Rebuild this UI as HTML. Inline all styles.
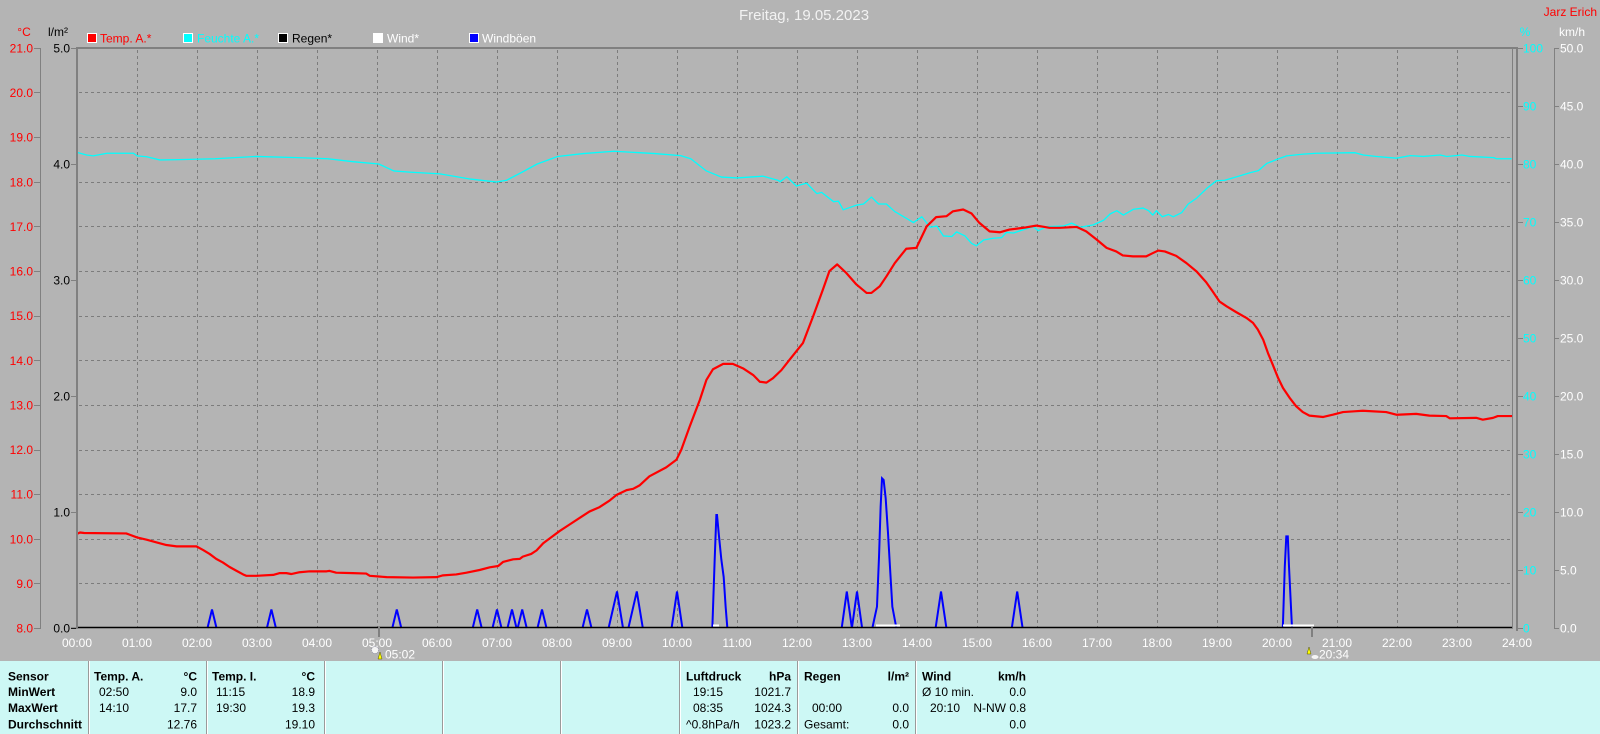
<!DOCTYPE html>
<html><head><meta charset="utf-8"><style>
html,body{margin:0;padding:0;background:#b4b4b4;}
svg{display:block;}
text{font-family:"Liberation Sans",Arial,sans-serif;}
</style></head><body>
<svg width="1600" height="734" viewBox="0 0 1600 734" xmlns="http://www.w3.org/2000/svg">
<rect x="0" y="0" width="1600" height="734" fill="#b4b4b4"/>
<!-- bottom panel -->
<rect x="0" y="661" width="1600" height="73" fill="#cdf8f5"/>
<g stroke="#9a9a9a" stroke-width="1">
<line x1="88.5" y1="661" x2="88.5" y2="734"/><line x1="206.5" y1="661" x2="206.5" y2="734"/>
<line x1="324.5" y1="661" x2="324.5" y2="734"/><line x1="442.5" y1="661" x2="442.5" y2="734"/>
<line x1="560.5" y1="661" x2="560.5" y2="734"/><line x1="679.5" y1="661" x2="679.5" y2="734"/>
<line x1="797.5" y1="661" x2="797.5" y2="734"/><line x1="915.5" y1="661" x2="915.5" y2="734"/>
</g>
<g stroke="#ffffff" stroke-width="1">
<line x1="89.5" y1="661" x2="89.5" y2="734"/><line x1="207.5" y1="661" x2="207.5" y2="734"/>
<line x1="325.5" y1="661" x2="325.5" y2="734"/><line x1="443.5" y1="661" x2="443.5" y2="734"/>
<line x1="561.5" y1="661" x2="561.5" y2="734"/><line x1="680.5" y1="661" x2="680.5" y2="734"/>
<line x1="798.5" y1="661" x2="798.5" y2="734"/><line x1="916.5" y1="661" x2="916.5" y2="734"/>
</g>

<!-- title -->
<text x="804" y="20" font-size="15" fill="#f2f2f2" text-anchor="middle">Freitag, 19.05.2023</text>
<text x="1597" y="16" font-size="12" fill="#ff0000" text-anchor="end">Jarz Erich</text>

<!-- units -->
<text x="24" y="36" font-size="12" fill="#ff0000" text-anchor="middle">°C</text>
<text x="58" y="36" font-size="12" fill="#000000" text-anchor="middle">l/m²</text>
<text x="1525" y="36" font-size="12" fill="#00ffff" text-anchor="middle">%</text>
<text x="1572" y="36" font-size="12" fill="#ffffff" text-anchor="middle">km/h</text>

<!-- legend -->
<rect x="87.5" y="33.5" width="9" height="9" fill="#ff0000" stroke="#ffffff" stroke-width="1"/>
<text x="100" y="42.5" font-size="12" fill="#ff0000">Temp. A.*</text>
<rect x="183.5" y="33.5" width="9" height="9" fill="#00ffff" stroke="#ffffff" stroke-width="1"/>
<text x="197" y="42.5" font-size="12" fill="#00ffff">Feuchte A.*</text>
<rect x="278.5" y="33.5" width="9" height="9" fill="#000000" stroke="#ffffff" stroke-width="1"/>
<text x="292" y="42.5" font-size="12" fill="#000000">Regen*</text>
<rect x="373.5" y="33.5" width="9" height="9" fill="#ffffff" stroke="#ffffff" stroke-width="1"/>
<text x="387" y="42.5" font-size="12" fill="#ffffff">Wind*</text>
<rect x="469.5" y="33.5" width="9" height="9" fill="#0000ff" stroke="#ffffff" stroke-width="1"/>
<text x="482" y="42.5" font-size="12" fill="#ffffff">Windböen</text>

<!-- grid -->
<g stroke="#7c7c7c" stroke-width="1" stroke-dasharray="3,3" fill="none">
<path d="M137.5 50V627M197.5 50V627M257.5 50V627M317.5 50V627M377.5 50V627M437.5 50V627M497.5 50V627M557.5 50V627M617.5 50V627M677.5 50V627M737.5 50V627M797.5 50V627M857.5 50V627M917.5 50V627M977.5 50V627M1037.5 50V627M1097.5 50V627M1157.5 50V627M1217.5 50V627M1277.5 50V627M1337.5 50V627M1397.5 50V627M1457.5 50V627"/>
<path d="M79 92.5H1512M79 137.5H1512M79 182.5H1512M79 226.5H1512M79 271.5H1512M79 316.5H1512M79 360.5H1512M79 405.5H1512M79 450.5H1512M79 494.5H1512M79 539.5H1512M79 583.5H1512"/>
</g>

<!-- left temp axis -->
<g stroke="#808080" stroke-width="1">
<line x1="40.5" y1="48" x2="40.5" y2="629"/>
<path d="M34 48.5H40M34 92.5H40M34 137.5H40M34 182.5H40M34 226.5H40M34 271.5H40M34 316.5H40M34 360.5H40M34 405.5H40M34 450.5H40M34 494.5H40M34 539.5H40M34 583.5H40M34 628.5H40"/>
<path d="M71 48.5H77M71 164.5H77M71 280.5H77M71 396.5H77M71 512.5H77M71 628.5H77"/>
<line x1="1554.5" y1="48" x2="1554.5" y2="629"/>
<path d="M1518 48.5H1523M1518 106.5H1523M1518 164.5H1523M1518 222.5H1523M1518 280.5H1523M1518 338.5H1523M1518 396.5H1523M1518 454.5H1523M1518 512.5H1523M1518 570.5H1523M1518 628.5H1523"/>
<path d="M1554 48.5H1559M1554 106.5H1559M1554 164.5H1559M1554 222.5H1559M1554 280.5H1559M1554 338.5H1559M1554 396.5H1559M1554 454.5H1559M1554 512.5H1559M1554 570.5H1559M1554 628.5H1559"/>
</g>
<g font-size="12" fill="#ff0000" text-anchor="end">
<text x="33" y="52.5">21.0</text><text x="33" y="97">20.0</text><text x="33" y="141.7">19.0</text>
<text x="33" y="186.3">18.0</text><text x="33" y="231">17.0</text><text x="33" y="275.6">16.0</text>
<text x="33" y="320.2">15.0</text><text x="33" y="364.8">14.0</text><text x="33" y="409.4">13.0</text>
<text x="33" y="454">12.0</text><text x="33" y="498.7">11.0</text><text x="33" y="543.3">10.0</text>
<text x="33" y="587.9">9.0</text><text x="33" y="632.5">8.0</text>
</g>
<g font-size="12" fill="#000000" text-anchor="end">
<text x="70" y="52.5">5.0</text><text x="70" y="168.5">4.0</text><text x="70" y="284.5">3.0</text>
<text x="70" y="400.5">2.0</text><text x="70" y="516.5">1.0</text><text x="70" y="632.5">0.0</text>
</g>
<g font-size="12" fill="#00ffff">
<text x="1523" y="52.5">100</text><text x="1523" y="110.5">90</text><text x="1523" y="168.5">80</text>
<text x="1523" y="226.5">70</text><text x="1523" y="284.5">60</text><text x="1523" y="342.5">50</text>
<text x="1523" y="400.5">40</text><text x="1523" y="458.5">30</text><text x="1523" y="516.5">20</text>
<text x="1523" y="574.5">10</text><text x="1523" y="632.5">0</text>
</g>
<g font-size="12" fill="#ffffff">
<text x="1560" y="52.5">50.0</text><text x="1560" y="110.5">45.0</text><text x="1560" y="168.5">40.0</text>
<text x="1560" y="226.5">35.0</text><text x="1560" y="284.5">30.0</text><text x="1560" y="342.5">25.0</text>
<text x="1560" y="400.5">20.0</text><text x="1560" y="458.5">15.0</text><text x="1560" y="516.5">10.0</text>
<text x="1560" y="574.5">5.0</text><text x="1560" y="632.5">0.0</text>
</g>

<!-- hour labels -->
<g font-size="12" fill="#ffffff" text-anchor="middle">
<text x="77" y="647">00:00</text><text x="137" y="647">01:00</text><text x="197" y="647">02:00</text>
<text x="257" y="647">03:00</text><text x="317" y="647">04:00</text><text x="377" y="647">05:00</text>
<text x="437" y="647">06:00</text><text x="497" y="647">07:00</text><text x="557" y="647">08:00</text>
<text x="617" y="647">09:00</text><text x="677" y="647">10:00</text><text x="737" y="647">11:00</text>
<text x="797" y="647">12:00</text><text x="857" y="647">13:00</text><text x="917" y="647">14:00</text>
<text x="977" y="647">15:00</text><text x="1037" y="647">16:00</text><text x="1097" y="647">17:00</text>
<text x="1157" y="647">18:00</text><text x="1217" y="647">19:00</text><text x="1277" y="647">20:00</text>
<text x="1337" y="647">21:00</text><text x="1397" y="647">22:00</text><text x="1457" y="647">23:00</text>
<text x="1517" y="647">24:00</text>
</g>

<!-- humidity -->
<polyline fill="none" stroke="#00ffff" stroke-width="1.3" vector-effect="non-scaling-stroke" stroke-linejoin="round"
transform="matrix(60 0 0 -5.8 77 628)"
points="0,82 0.16,81.55 0.27,81.4 0.5,81.85 0.94,81.85 1.0,81.4 1.16,81.25 1.38,80.7 1.7,80.75 2.3,80.9 2.98,81.3 3.67,81.1 4.18,80.9 4.6,80.4 5.03,80.0 5.28,78.8 5.54,78.6 6.05,78.3 6.56,77.4 6.99,76.9 7.16,77.2 7.42,78.6 7.67,80.0 8.01,81.3 8.44,81.8 8.95,82.2 9.63,81.8 10.06,81.45 10.23,80.9 10.49,78.8 10.74,77.75 11.0,77.6 11.43,77.9 11.68,77.2 11.72,76.95 11.83,77.8 11.99,76.2 12.16,76.7 12.33,74.9 12.41,75.1 12.61,73.5 12.69,73.6 12.77,72.1 12.99,72.9 13.11,73.1 13.24,74.3 13.36,73.1 13.49,73.1 13.63,71.8 13.83,70.6 13.94,69.9 14.08,70.9 14.22,69.1 14.33,69.3 14.44,67.6 14.58,67.5 14.66,68.3 14.8,67.6 14.91,66.3 14.99,65.9 15.11,66.9 15.27,67.2 15.41,67.3 15.49,68.2 15.61,68.1 15.72,68.5 15.94,69.2 16.02,68.5 16.16,69.2 16.44,69.3 16.58,69.8 16.72,69.1 16.94,69.5 17.11,70.3 17.22,71.4 17.33,71.95 17.44,71.2 17.61,72.2 17.77,72.4 17.86,71.95 17.93,71.2 17.99,71.95 18.09,70.9 18.19,71.3 18.27,70.9 18.41,71.6 18.52,73.1 18.66,74.1 18.83,75.8 18.99,77.1 19.13,77.2 19.33,77.8 19.55,78.5 19.69,78.85 19.83,80.1 20.0,80.8 20.16,81.4 20.44,81.7 20.66,81.85 21.3,81.95 21.44,81.55 21.66,81.3 21.99,81.0 22.22,81.45 22.44,81.3 22.72,81.55 22.83,81.3 23.08,81.55 23.22,81.3 23.61,81.1 23.66,80.9 23.91,80.9"/>

<!-- temperature -->
<polyline fill="none" stroke="#ff0000" stroke-width="2.2" vector-effect="non-scaling-stroke" stroke-linejoin="round"
transform="matrix(60 0 0 -44.615 77 984.92)"
points="0,10.11 0.05,10.14 0.12,10.13 0.82,10.12 0.88,10.09 1.0,10.03 1.16,9.98 1.32,9.92 1.49,9.86 1.66,9.83 1.99,9.83 2.1,9.75 2.21,9.66 2.32,9.55 2.43,9.47 2.54,9.37 2.66,9.28 2.77,9.2 2.82,9.17 2.99,9.17 3.27,9.19 3.38,9.23 3.49,9.23 3.57,9.21 3.71,9.25 3.88,9.27 4.16,9.27 4.21,9.28 4.32,9.24 4.6,9.23 4.82,9.22 4.88,9.17 5.16,9.14 5.6,9.13 5.99,9.14 6.1,9.18 6.32,9.2 6.49,9.24 6.71,9.3 6.88,9.36 7.02,9.39 7.1,9.48 7.27,9.54 7.38,9.55 7.43,9.6 7.57,9.66 7.66,9.74 7.77,9.9 7.91,10.04 8.04,10.17 8.21,10.32 8.38,10.47 8.54,10.61 8.71,10.71 8.88,10.86 8.99,10.98 9.16,11.09 9.27,11.12 9.38,11.2 9.54,11.4 9.82,11.6 9.99,11.77 10.07,11.99 10.21,12.51 10.38,13.11 10.49,13.56 10.6,13.8 10.77,13.92 10.93,13.92 11.1,13.82 11.27,13.67 11.38,13.52 11.49,13.5 11.6,13.6 11.74,13.78 11.88,14.02 12.1,14.39 12.27,14.99 12.43,15.58 12.54,16.0 12.67,16.15 12.82,15.96 12.99,15.7 13.16,15.51 13.24,15.51 13.38,15.66 13.49,15.88 13.63,16.18 13.82,16.5 13.99,16.52 14.16,17.0 14.32,17.21 14.49,17.23 14.6,17.34 14.77,17.38 14.91,17.29 15.04,17.08 15.21,16.89 15.38,16.87 15.54,16.93 15.82,16.98 15.99,17.02 16.21,16.97 16.38,16.97 16.66,16.99 16.82,16.89 16.99,16.71 17.16,16.52 17.32,16.44 17.43,16.35 17.6,16.33 17.82,16.33 17.91,16.39 18.02,16.46 18.13,16.44 18.32,16.34 18.49,16.18 18.66,15.99 18.82,15.75 18.93,15.54 19.04,15.32 19.16,15.21 19.32,15.08 19.49,14.95 19.6,14.84 19.68,14.69 19.77,14.46 19.85,14.16 19.93,13.9 20.02,13.6 20.1,13.38 20.21,13.16 20.32,12.97 20.43,12.84 20.54,12.76 20.77,12.73 20.93,12.78 21.1,12.84 21.32,12.86 21.43,12.87 21.82,12.84 21.99,12.78 22.32,12.8 22.54,12.76 22.82,12.75 22.88,12.7 23.32,12.71 23.43,12.67 23.6,12.71 23.68,12.75 23.93,12.75"/>

<!-- wind gusts -->
<g fill="none" stroke="#0000ff" stroke-width="2" vector-effect="non-scaling-stroke" stroke-linejoin="miter" transform="matrix(60 0 0 -11.6 77 628)">
<polyline vector-effect="non-scaling-stroke" points="2.175,0 2.25,1.6 2.325,0"/>
<polyline vector-effect="non-scaling-stroke" points="3.165,0 3.24,1.6 3.315,0"/>
<polyline vector-effect="non-scaling-stroke" points="5.255,0 5.33,1.6 5.405,0"/>
<polyline vector-effect="non-scaling-stroke" points="6.595,0 6.67,1.6 6.745,0"/>
<polyline vector-effect="non-scaling-stroke" points="6.925,0 7.0,1.6 7.075,0"/>
<polyline vector-effect="non-scaling-stroke" points="7.175,0 7.25,1.6 7.325,0"/>
<polyline vector-effect="non-scaling-stroke" points="7.345,0 7.42,1.6 7.495,0"/>
<polyline vector-effect="non-scaling-stroke" points="7.675,0 7.75,1.6 7.825,0"/>
<polyline vector-effect="non-scaling-stroke" points="8.425,0 8.5,1.6 8.575,0"/>
<polyline vector-effect="non-scaling-stroke" points="8.86,0 9.0,3.15 9.1,0"/>
<polyline vector-effect="non-scaling-stroke" points="9.19,0 9.33,3.15 9.43,0"/>
<polyline vector-effect="non-scaling-stroke" points="9.91,0 10.0,3.15 10.09,0"/>
<polyline vector-effect="non-scaling-stroke" points="10.589,0 10.628,5.9 10.656,9.74 10.667,9.74 10.7,7.9 10.739,5.9 10.778,4.4 10.811,1.8 10.839,0"/>
<polyline vector-effect="non-scaling-stroke" points="12.745,0 12.83,3.15 12.915,0"/>
<polyline vector-effect="non-scaling-stroke" points="12.915,0 13.0,3.15 13.085,0"/>
<polyline vector-effect="non-scaling-stroke" points="13.256,0 13.333,1.84 13.367,6.15 13.394,10.46 13.417,12.9 13.444,12.76 13.478,11.18 13.517,8.16 13.556,4.7 13.589,1.84 13.656,0"/>
<polyline vector-effect="non-scaling-stroke" points="14.31,0 14.4,3.15 14.49,0"/>
<polyline vector-effect="non-scaling-stroke" points="15.58,0 15.67,3.15 15.76,0"/>
<polyline vector-effect="non-scaling-stroke" points="20.097,0 20.13,5.3 20.155,7.9 20.18,7.9 20.2,5.3 20.25,0"/>
</g>

<!-- wind avg (white) -->
<g fill="none" stroke="#ffffff" stroke-width="2">
<line x1="713" y1="625.5" x2="719" y2="625.5"/>
<line x1="876" y1="625.5" x2="900" y2="625.5"/>
<line x1="1283" y1="625.5" x2="1314" y2="625.5"/>
</g>

<!-- baseline -->
<line x1="77" y1="627.5" x2="1513" y2="627.5" stroke="#000000" stroke-width="1.6"/>
<line x1="71" y1="628.3" x2="77" y2="628.3" stroke="#000000" stroke-width="1"/>

<!-- plot border -->
<g fill="#808080">
<rect x="76" y="47" width="1442" height="2"/>
<rect x="76" y="47" width="2" height="582"/>
<rect x="1516" y="47" width="2" height="584"/>
<rect x="1512" y="49" width="1" height="579"/>
</g>

<!-- sunrise / sunset markers -->
<rect x="378" y="627" width="2" height="10" fill="#808080"/>
<rect x="1311" y="627" width="2" height="10" fill="#808080"/>
<g>
<circle cx="375" cy="650" r="3.5" fill="#f4f4f4" stroke="#8080a0" stroke-width="0.6" stroke-dasharray="1,1"/>
<path d="M378 659 L380 652 L382 659 Z" fill="#ffff00" stroke="#505000" stroke-width="0.5"/>
<text x="385" y="658.5" font-size="12" fill="#ffffff">05:02</text>
<path d="M1307 654 L1309 647 L1311 654 Z" fill="#ffff00" stroke="#505000" stroke-width="0.5"/>
<ellipse cx="1315" cy="657" rx="3.5" ry="2" fill="#f4f4f4"/>
<text x="1319" y="658.5" font-size="12" fill="#ffffff">20:34</text>
</g>

<!-- table -->
<g font-size="12" fill="#000000">
<g font-weight="bold">
<text x="8" y="680.5">Sensor</text>
<text x="8" y="696">MinWert</text>
<text x="8" y="712">MaxWert</text>
<text x="8" y="728.5">Durchschnitt</text>
<text x="94" y="680.5">Temp. A.</text>
<text x="197" y="680.5" text-anchor="end">°C</text>
<text x="212" y="680.5">Temp. I.</text>
<text x="315" y="680.5" text-anchor="end">°C</text>
<text x="686" y="680.5">Luftdruck</text>
<text x="791" y="680.5" text-anchor="end">hPa</text>
<text x="804" y="680.5">Regen</text>
<text x="909" y="680.5" text-anchor="end">l/m²</text>
<text x="922" y="680.5">Wind</text>
<text x="1026" y="680.5" text-anchor="end">km/h</text>
</g>
<text x="99" y="696">02:50</text><text x="197" y="696" text-anchor="end">9.0</text>
<text x="99" y="712">14:10</text><text x="197" y="712" text-anchor="end">17.7</text>
<text x="197" y="728.5" text-anchor="end">12.76</text>
<text x="216" y="696">11:15</text><text x="315" y="696" text-anchor="end">18.9</text>
<text x="216" y="712">19:30</text><text x="315" y="712" text-anchor="end">19.3</text>
<text x="315" y="728.5" text-anchor="end">19.10</text>
<text x="693" y="696">19:15</text><text x="791" y="696" text-anchor="end">1021.7</text>
<text x="693" y="712">08:35</text><text x="791" y="712" text-anchor="end">1024.3</text>
<text x="686" y="728.5">^0.8hPa/h</text><text x="791" y="728.5" text-anchor="end">1023.2</text>
<text x="812" y="712">00:00</text><text x="909" y="712" text-anchor="end">0.0</text>
<text x="804" y="728.5">Gesamt:</text><text x="909" y="728.5" text-anchor="end">0.0</text>
<text x="922" y="696">Ø 10 min.</text><text x="1026" y="696" text-anchor="end">0.0</text>
<text x="930" y="712">20:10</text><text x="1026" y="712" text-anchor="end">N-NW 0.8</text>
<text x="1026" y="728.5" text-anchor="end">0.0</text>
</g>
</svg>
</body></html>
